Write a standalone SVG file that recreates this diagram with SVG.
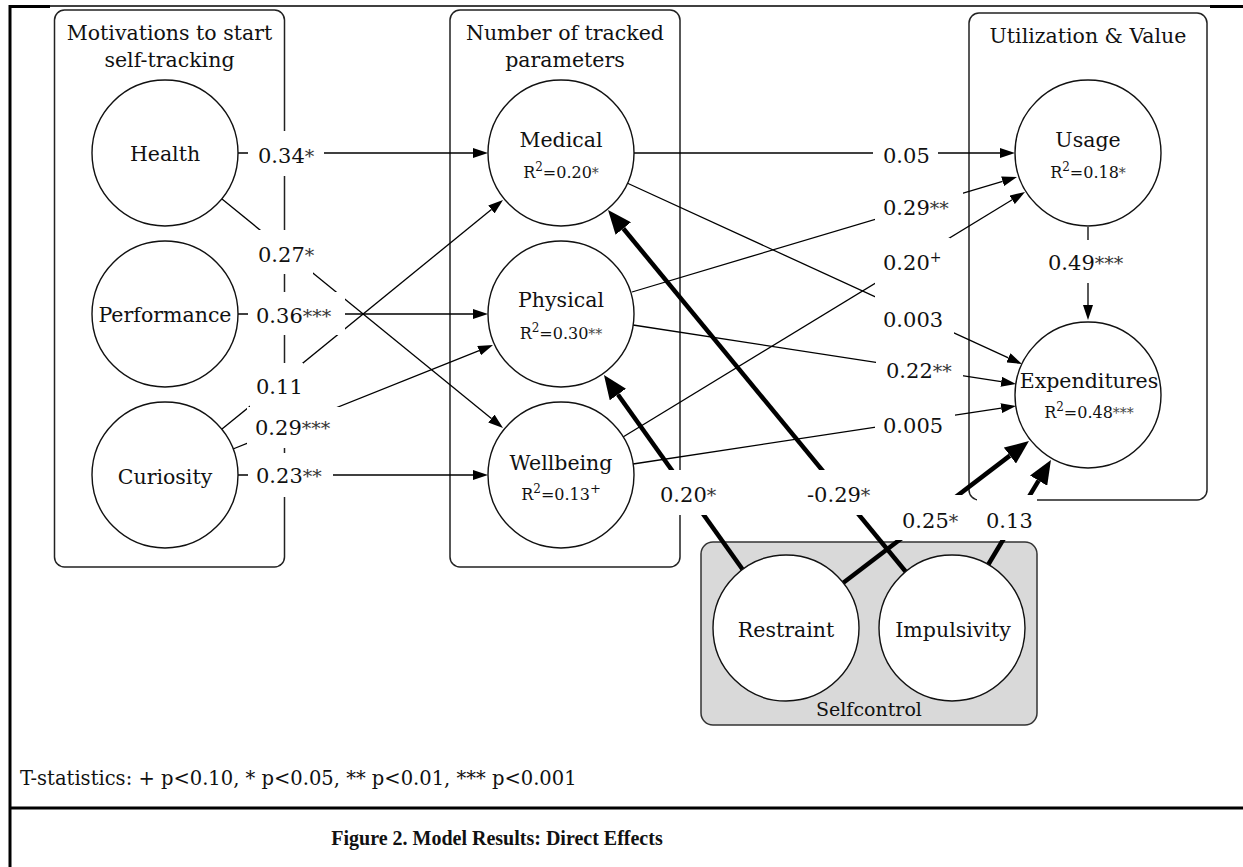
<svg xmlns="http://www.w3.org/2000/svg" width="1243" height="867" viewBox="0 0 1243 867">
<defs>
<style>
text{font-family:"DejaVu Serif","Liberation Serif",serif;fill:#111}
.t{font-size:20.5px;text-anchor:middle}
.n{font-size:20.5px;text-anchor:middle}
.r2{font-size:16px;text-anchor:middle}
.num{font-size:21px}
.st{font-size:19px;fill:#333}
.grp{fill:none;stroke:#222;stroke-width:1.5}
.nd{fill:#fff;stroke:#111;stroke-width:1.4}
.c{stroke:#000;stroke-width:1.3;fill:none;marker-end:url(#ah)}
.k{stroke:#000;stroke-width:4.5;fill:none;marker-end:url(#ahk)}
.lb{fill:#fff;stroke:none}
.fr{stroke:#000;fill:none}
</style>
<marker id="ah" markerUnits="userSpaceOnUse" viewBox="0 0 15 10" refX="0" refY="5" markerWidth="15" markerHeight="10" orient="auto"><path d="M0,0 L15,5 L0,10 z" fill="#000"/></marker>
<marker id="ahk" markerUnits="userSpaceOnUse" viewBox="0 0 24 20" refX="0" refY="10" markerWidth="24" markerHeight="20" orient="auto"><path d="M0,0 L24,10 L0,20 z" fill="#000"/></marker>
</defs>
<rect width="1243" height="867" fill="#fff"/>
<g id="frame">
<line class="fr" x1="10" y1="6" x2="1243" y2="6" stroke-width="1.5"/>
<line class="fr" x1="10" y1="6.5" x2="50" y2="6.5" stroke-width="3"/>
<line class="fr" x1="1210" y1="6.5" x2="1243" y2="6.5" stroke-width="3"/>
<line class="fr" x1="10" y1="5" x2="10" y2="867" stroke-width="3"/>
<line class="fr" x1="10" y1="808" x2="1243" y2="808" stroke-width="3"/>
</g>
<g id="group-motivations">
<rect class="grp" x="54.5" y="10" width="230" height="557" rx="10"/>
<text class="t" x="169.5" y="40">Motivations to start</text>
<text class="t" x="169.5" y="67">self-tracking</text>
</g>
<g id="group-parameters">
<rect class="grp" x="450" y="10" width="230" height="557" rx="10"/>
<text class="t" x="565" y="40">Number of tracked</text>
<text class="t" x="565" y="67">parameters</text>
</g>
<g id="group-utilization">
<rect class="grp" x="969" y="13" width="238" height="487" rx="10"/>
<text class="t" x="1088" y="43">Utilization &amp; Value</text>
</g>
<g id="group-selfcontrol">
<rect x="701" y="542" width="336" height="183" rx="12" fill="#d9d9d9" stroke="#333" stroke-width="1.5"/>
<text class="t" x="869" y="716" style="font-size:19px">Selfcontrol</text>
</g>
<g id="connectors">
<line class="c" x1="238" y1="153" x2="473" y2="153"/>
<line class="c" x1="222" y1="199" x2="491.4" y2="418.5"/>
<line class="c" x1="238" y1="314" x2="473" y2="314"/>
<line class="c" x1="222" y1="429" x2="491.4" y2="209.5"/>
<line class="c" x1="233" y1="449" x2="479.1" y2="350.6"/>
<line class="c" x1="238" y1="475" x2="473" y2="475"/>
<line class="c" x1="634" y1="153" x2="1000" y2="153"/>
<line class="c" x1="632" y1="292" x2="1002.6" y2="181.3"/>
<line class="c" x1="623" y1="437" x2="1012.2" y2="199.8"/>
<line class="c" x1="627" y1="183" x2="1008.4" y2="357.8"/>
<line class="c" x1="633" y1="325" x2="1001.2" y2="381.7"/>
<line class="c" x1="633" y1="464" x2="1001.2" y2="408.2"/>
<line class="c" x1="1088" y1="227" x2="1088" y2="305"/>
<line class="k" x1="743" y1="570" x2="617.9" y2="394.5"/>
<line class="k" x1="906" y1="572" x2="623.3" y2="228.5"/>
<line class="k" x1="843" y1="583" x2="1009.9" y2="455.6"/>
<line class="k" x1="988" y1="565" x2="1038.6" y2="480.6"/>
<g id="labels">
<rect class="lb" x="248" y="131" width="76" height="45"/>
<text class="num" x="258" y="163">0.34<tspan class="st">*</tspan></text>
<rect class="lb" x="250" y="230" width="63" height="44"/>
<text class="num" x="258" y="262">0.27<tspan class="st">*</tspan></text>
<rect class="lb" x="248" y="292" width="97" height="43"/>
<text class="num" x="256" y="323">0.36<tspan class="st">***</tspan></text>
<rect class="lb" x="250" y="363" width="53" height="44"/>
<text class="num" x="256" y="394">0.11</text>
<rect class="lb" x="247" y="407" width="98" height="41"/>
<text class="num" x="255" y="435">0.29<tspan class="st">***</tspan></text>
<rect class="lb" x="248" y="453" width="85" height="44"/>
<text class="num" x="256" y="483">0.23<tspan class="st">**</tspan></text>
<rect class="lb" x="873" y="131" width="65" height="44"/>
<text class="num" x="883" y="163">0.05</text>
<rect class="lb" x="875" y="185" width="88" height="43"/>
<text class="num" x="883" y="215">0.29<tspan class="st">**</tspan></text>
<rect class="lb" x="875" y="238" width="75" height="50"/>
<text class="num" x="883" y="270">0.20<tspan dy="-8" style="font-size:14px">+</tspan></text>
<rect class="lb" x="875" y="290" width="79" height="48"/>
<text class="num" x="883" y="327">0.003</text>
<rect class="lb" x="876" y="348" width="87" height="44"/>
<text class="num" x="886" y="378">0.22<tspan class="st">**</tspan></text>
<rect class="lb" x="875" y="404" width="80" height="44"/>
<text class="num" x="883" y="433">0.005</text>
<rect class="lb" x="1040" y="240" width="95" height="43"/>
<text class="num" x="1048" y="270">0.49<tspan class="st">***</tspan></text>
<rect class="lb" x="652" y="470" width="74" height="45"/>
<text class="num" x="660" y="502">0.20<tspan class="st">*</tspan></text>
<rect class="lb" x="800" y="470" width="80" height="45"/>
<text class="num" x="807" y="502">-0.29<tspan class="st">*</tspan></text>
<rect class="lb" x="893" y="495" width="74" height="45"/>
<text class="num" x="902" y="528">0.25<tspan class="st">*</tspan></text>
<rect class="lb" x="977" y="495" width="60" height="45"/>
<text class="num" x="986" y="528">0.13</text>
</g>
</g>
<g id="node-health"><circle class="nd" cx="165" cy="153" r="73"/><text class="n" x="165" y="161">Health</text></g>
<g id="node-performance"><circle class="nd" cx="165" cy="314" r="73"/><text class="n" x="165" y="322">Performance</text></g>
<g id="node-curiosity"><circle class="nd" cx="165" cy="475" r="73"/><text class="n" x="165" y="484">Curiosity</text></g>
<g id="node-medical"><circle class="nd" cx="561" cy="153" r="73"/><text class="n" x="561" y="147">Medical</text><text class="r2" x="561" y="178">R<tspan dy="-7" style="font-size:12px">2</tspan><tspan dy="7">=0.20</tspan><tspan style="font-size:14px;fill:#444">*</tspan></text></g>
<g id="node-physical"><circle class="nd" cx="561" cy="314" r="73"/><text class="n" x="561" y="307">Physical</text><text class="r2" x="561" y="339">R<tspan dy="-7" style="font-size:12px">2</tspan><tspan dy="7">=0.30</tspan><tspan style="font-size:14px;fill:#444">**</tspan></text></g>
<g id="node-wellbeing"><circle class="nd" cx="561" cy="475" r="73"/><text class="n" x="561" y="470">Wellbeing</text><text class="r2" x="561" y="500">R<tspan dy="-7" style="font-size:12px">2</tspan><tspan dy="7">=0.13</tspan><tspan dy="-7" style="font-size:13px">+</tspan></text></g>
<g id="node-usage"><circle class="nd" cx="1088" cy="153" r="73"/><text class="n" x="1088" y="147">Usage</text><text class="r2" x="1088" y="178">R<tspan dy="-7" style="font-size:12px">2</tspan><tspan dy="7">=0.18</tspan><tspan style="font-size:14px;fill:#444">*</tspan></text></g>
<g id="node-expenditures"><circle class="nd" cx="1088" cy="395" r="73"/><text class="n" x="1089" y="388">Expenditures</text><text class="r2" x="1089" y="418">R<tspan dy="-7" style="font-size:12px">2</tspan><tspan dy="7">=0.48</tspan><tspan style="font-size:14px;fill:#444">***</tspan></text></g>
<g id="node-restraint"><circle class="nd" cx="786" cy="628" r="73"/><text class="n" x="786" y="637">Restraint</text></g>
<g id="node-impulsivity"><circle class="nd" cx="952" cy="628" r="73"/><text class="n" x="953" y="637">Impulsivity</text></g>
<g id="legend">
<text x="20" y="785" style="font-size:19.5px">T-statistics:  + p&lt;0.10, * p&lt;0.05, ** p&lt;0.01, *** p&lt;0.001</text>
<text x="497" y="845" style="font-family:'Liberation Serif',serif;font-weight:bold;font-size:20px;text-anchor:middle">Figure 2. Model Results: Direct Effects</text>
</g>
</svg>
